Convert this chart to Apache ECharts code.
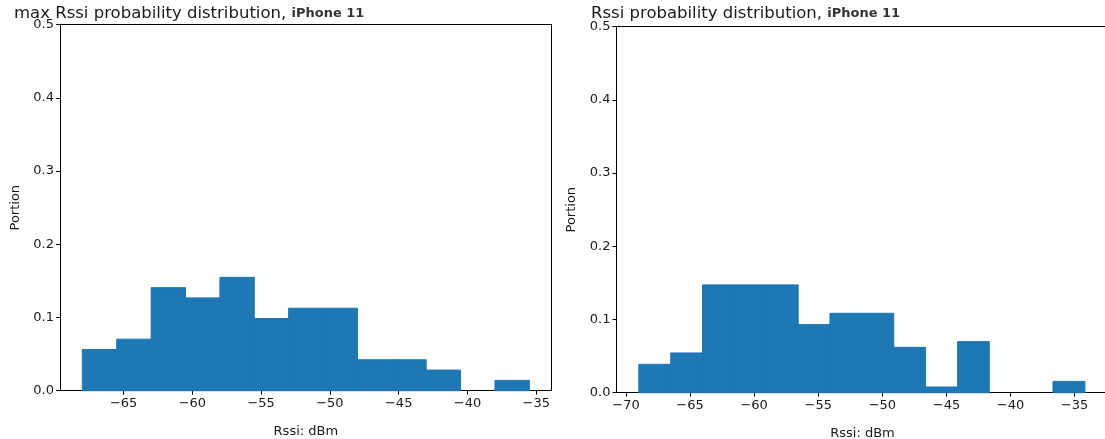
<!DOCTYPE html>
<html>
<head>
<meta charset="utf-8">
<script src="https://cdn.jsdelivr.net/npm/echarts@6/dist/echarts.min.js"></script>
<style>html,body{margin:0;padding:0;background:#fff}#c{width:1105px;height:439px}</style>
</head>
<body>
<div id="c"></div>
<script>
// Left histogram: bin edges and portions
const leftEdges = [-68, -65.5, -63, -60.5, -58, -55.5, -53, -50.5, -48, -45.5, -43, -40.5, -38, -35.5];
const leftValues = [0.0563, 0.0704, 0.1408, 0.1268, 0.1549, 0.0986, 0.1127, 0.1127, 0.0423, 0.0423, 0.0282, 0, 0.0141];
// Right histogram
const rightEdges = [-69, -66.51, -64.03, -61.54, -59.06, -56.57, -54.09, -51.6, -49.11, -46.63, -44.14, -41.66, -39.17, -36.69, -34.2];
const rightValues = [0.0388, 0.0543, 0.1473, 0.1473, 0.1473, 0.093, 0.1085, 0.1085, 0.062, 0.0078, 0.0698, 0, 0, 0.0155];
// Tick labels
const leftXTicks = [-65, -60, -55, -50, -45, -40, -35];
const rightXTicks = [-70, -65, -60, -55, -50, -45, -40, -35];
const leftTitle = 'max Rssi probability distribution, ';
const rightTitle = 'Rssi probability distribution, ';
const device = 'iPhone 11';
const xName = 'Rssi: dBm';
const yName = 'Portion';

function binsData(edges, vals) {
  return vals.map((v, i) => [edges[i], edges[i + 1], v]);
}

const txt = '#1a1a1a';
const font = 'DejaVu Sans';

function xAxisCfg(idx, min, max, ticks) {
  return {
    gridIndex: idx, type: 'value', min: min, max: max, position: 'bottom',
    name: xName, nameLocation: 'middle', nameGap: 34,
    nameTextStyle: {color: txt, fontFamily: font, fontSize: 13},
    axisLine: {show: true, onZero: false, lineStyle: {color: '#000', width: 1}},
    axisTick: {show: true, inside: false, length: 4, lineStyle: {color: '#000'}, customValues: ticks},
    axisLabel: {show: true, color: txt, fontFamily: font, fontSize: 13, margin: 6, customValues: ticks,
      formatter: v => (v < 0 ? '\u2212' + Math.abs(v) : String(v))},
    splitLine: {show: false}
  };
}
function frameX(idx, min, max) {
  return {
    gridIndex: idx, type: 'value', min: min, max: max, position: 'top',
    axisLine: {show: true, onZero: false, lineStyle: {color: '#000', width: 1}},
    axisTick: {show: false}, axisLabel: {show: false}, splitLine: {show: false}
  };
}
function yAxisCfg(idx) {
  return {
    gridIndex: idx, type: 'value', min: 0, max: 0.5, interval: 0.1, position: 'left',
    name: yName, nameLocation: 'middle', nameGap: 38,
    nameTextStyle: {color: txt, fontFamily: font, fontSize: 13},
    axisLine: {show: true, onZero: false, lineStyle: {color: '#000', width: 1}},
    axisTick: {show: true, inside: false, length: 4, lineStyle: {color: '#000'}},
    axisLabel: {show: true, color: txt, fontFamily: font, fontSize: 13, margin: 6,
      formatter: v => v.toFixed(1)},
    splitLine: {show: false}
  };
}
function renderBar(params, api) {
  const h = api.value(2);
  if (!(h > 0)) return null;
  const p0 = api.coord([api.value(0), h]);
  const p1 = api.coord([api.value(1), 0]);
  return {
    type: 'rect',
    shape: {x: p0[0], y: p0[1], width: p1[0] - p0[0], height: p1[1] - p0[1]},
    style: {fill: '#1f77b4', stroke: '#1f77b4', lineWidth: 1}
  };
}
const richStyle = {
  a: {fontFamily: font, fontSize: 16.5, fontWeight: 'normal', color: txt},
  b: {fontFamily: font, fontSize: 13, fontWeight: 'bold', color: '#333'}
};
const chart = echarts.init(document.getElementById('c'), null, {renderer: 'canvas'});
chart.setOption({
  animation: false,
  backgroundColor: '#fff',
  title: [
    {text: '{a|' + leftTitle + '}{b|' + device + '}', left: 9, top: 0, textStyle: {fontWeight: 'normal', rich: richStyle}},
    {text: '{a|' + rightTitle + '}{b|' + device + '}', left: 586, top: 0, textStyle: {fontWeight: 'normal', rich: richStyle}}
  ],
  grid: [
    {left: 60, top: 24.7, width: 491.7, height: 366, outerBoundsMode: 'none', containLabel: false},
    {left: 616.5, top: 26.7, width: 492, height: 366, outerBoundsMode: 'none', containLabel: false}
  ],
  xAxis: [
    xAxisCfg(0, -69.625, -33.875, leftXTicks),
    xAxisCfg(1, -70.74, -32.36, rightXTicks),
    frameX(0, -69.625, -33.875),
    frameX(1, -70.74, -32.36)
  ],
  yAxis: [
    yAxisCfg(0),
    yAxisCfg(1),
    {gridIndex: 0, type: 'value', min: 0, max: 0.5, position: 'right',
     axisLine: {show: true, onZero: false, lineStyle: {color: '#000', width: 1}},
     axisTick: {show: false}, axisLabel: {show: false}, splitLine: {show: false}}
  ],
  series: [
    {type: 'custom', xAxisIndex: 0, yAxisIndex: 0, renderItem: renderBar, data: binsData(leftEdges, leftValues), encode: {x: [0, 1], y: 2}},
    {type: 'custom', xAxisIndex: 1, yAxisIndex: 1, renderItem: renderBar, data: binsData(rightEdges, rightValues), encode: {x: [0, 1], y: 2}}
  ]
});
</script>
</body>
</html>
